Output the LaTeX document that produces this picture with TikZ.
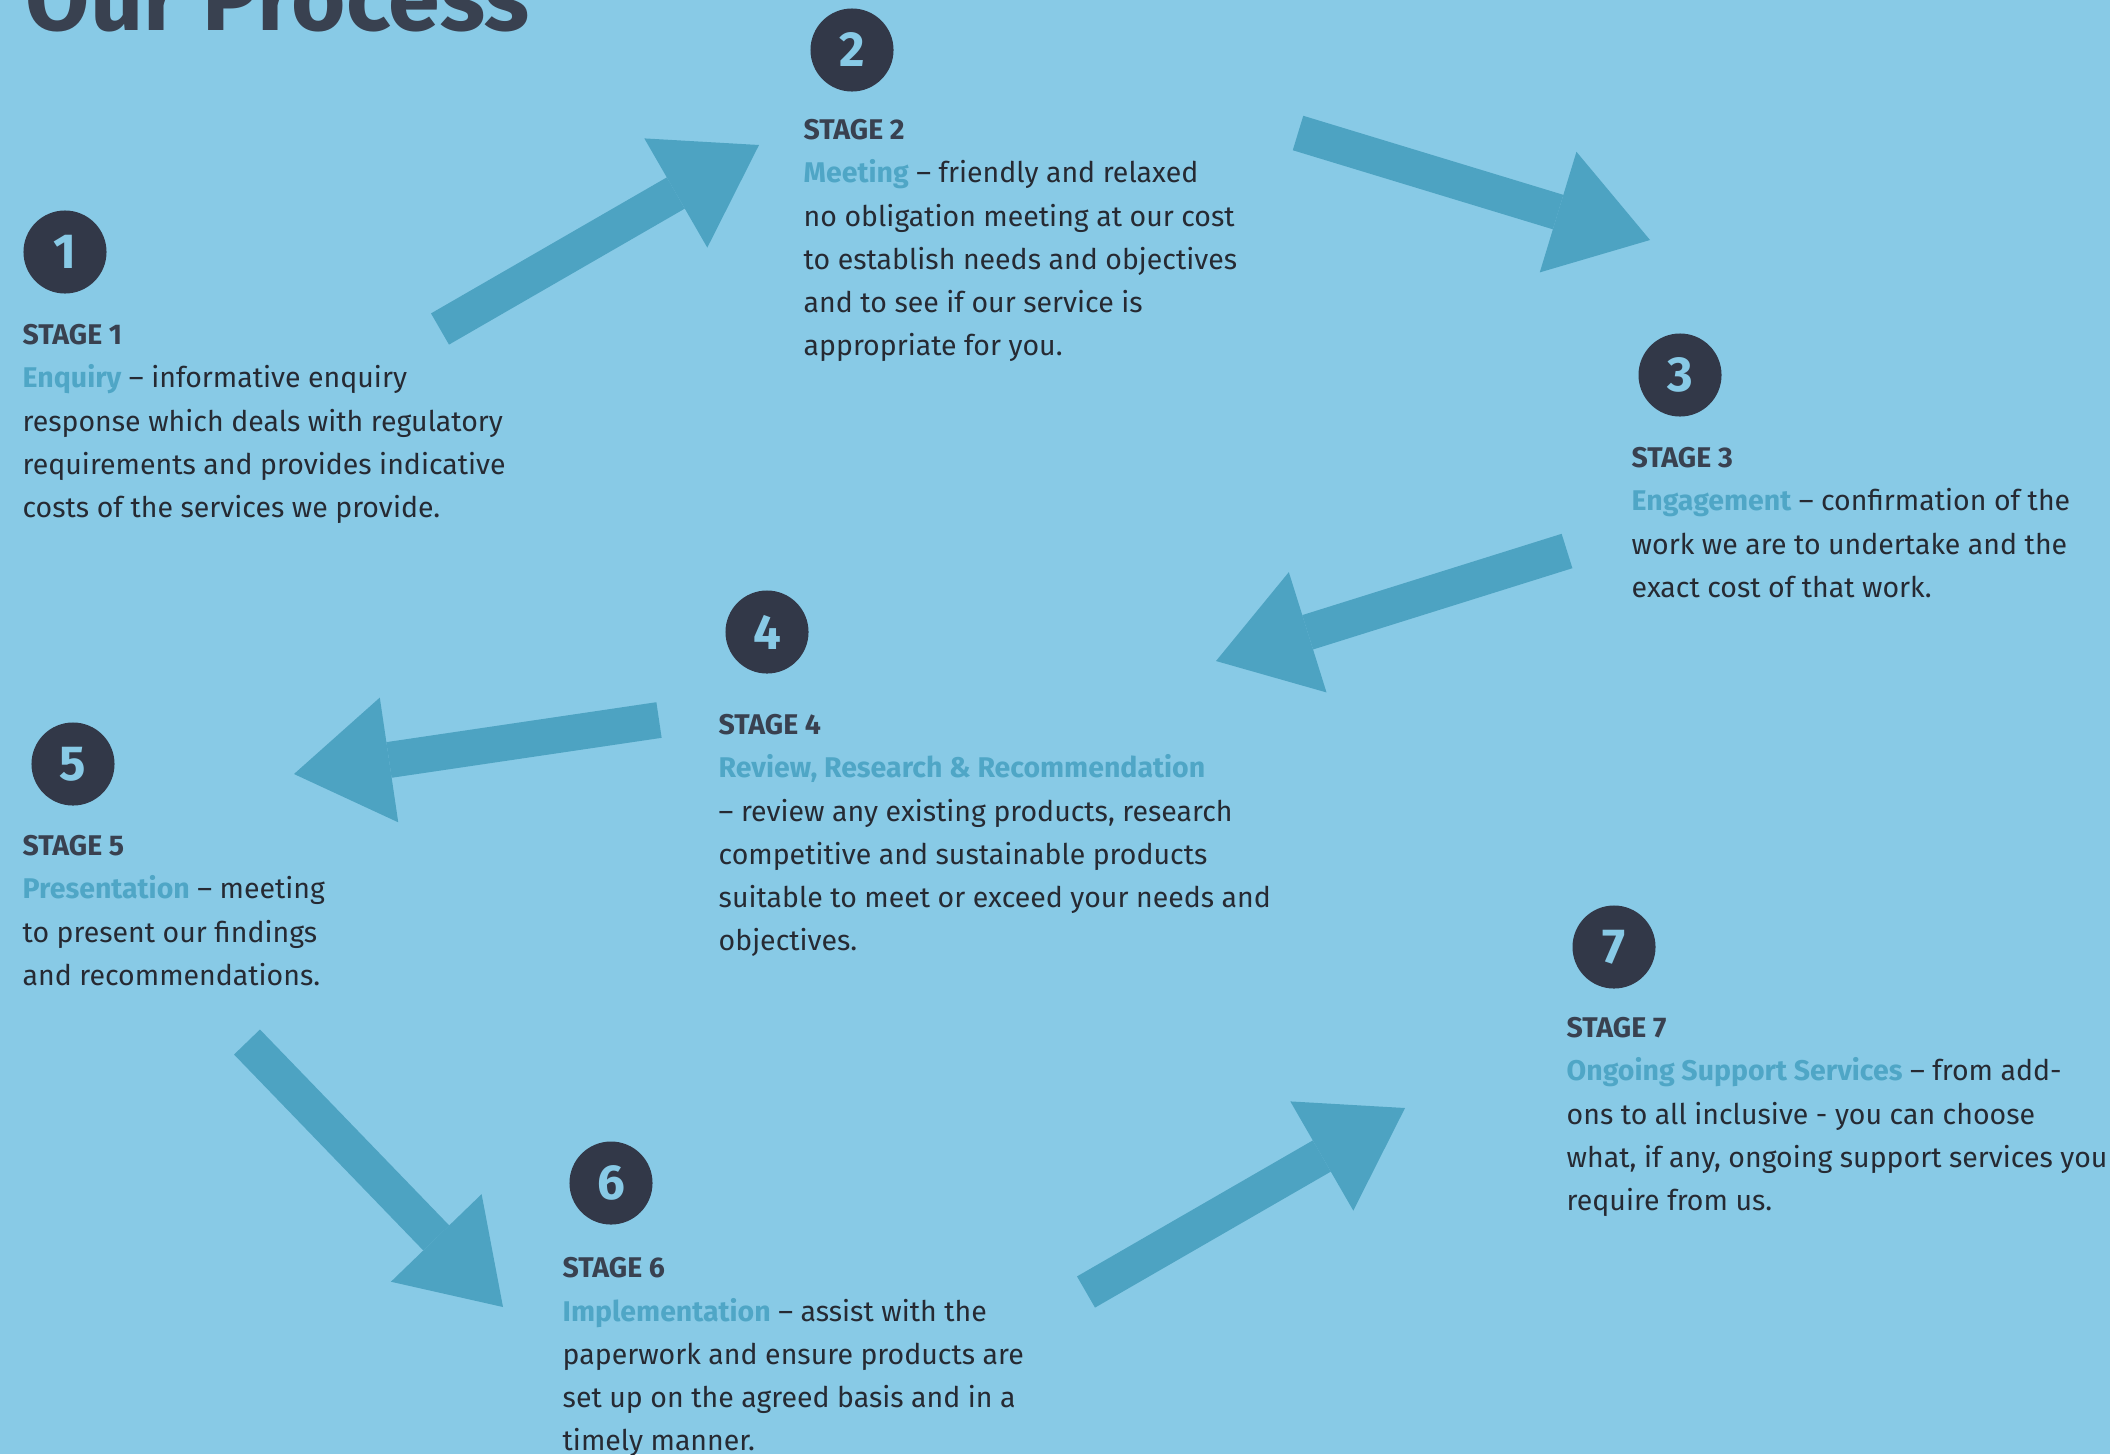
\documentclass[tikz,border=0pt]{standalone}
\usepackage{fontspec}
\setmainfont{Fira Sans}
\usepackage{tikz}
\usetikzlibrary{arrows.meta}
\definecolor{skybg}{HTML}{88CAE6}
\definecolor{arrowblue}{HTML}{4DA3C2}
\definecolor{navy}{HTML}{323848}
\definecolor{keyblue}{HTML}{4FA6C6}
\definecolor{bodyink}{HTML}{262A33}
\definecolor{headink}{HTML}{394150}
\newcommand{\stagehead}[1]{\textcolor{headink}{\bfseries #1}}
\newcommand{\stagekey}[1]{\textcolor{keyblue}{\bfseries #1}}
\tikzset{
  numdot/.style={circle, fill=navy, text=skybg, minimum size=8.3mm, inner sep=0pt,
    font=\fontsize{14pt}{14pt}\selectfont\bfseries},
  stagetext/.style={anchor=north west, align=left, inner sep=0pt, text=bodyink,
    font=\fontsize{8.1pt}{12.24pt}\selectfont},
  flowarrow/.style={arrowblue, line width=3.6mm,
    -{Triangle[length=9.6mm, width=12.6mm, line width=0pt]}},
}

\begin{document}
\begin{tikzpicture}[x=0.01cm, y=-0.01cm]
  \fill[skybg] (0,0) rectangle (2110,1454);
  \useasboundingbox (0,0) rectangle (2110,1454);

  % title, cut at the top edge
  \node[anchor=base west, inner sep=0pt, text=headink,
    font=\fontsize{26.5pt}{26.5pt}\selectfont\bfseries] (title) at (25,30) {Our Process};

  % numbered dots
  \node[numdot] (c1) at (65,252) {1};
  \node[numdot] (c2) at (852,50) {2};
  \node[numdot] (c3) at (1680,375) {3};
  \node[numdot] (c4) at (767,632) {4};
  \node[numdot] (c5) at (73,764) {5};
  \node[numdot] (c6) at (611,1183) {6};
  \node[numdot] (c7) at (1614,947) {7};

  % stage texts
  \node[stagetext] (t1) at (22,324) {\stagehead{STAGE 1}\\
    \stagekey{Enquiry} -- informative enquiry\\
    response which deals with regulatory\\
    requirements and provides indicative\\
    costs of the services we provide.};
  \node[stagetext] (t2) at (803,119) {\stagehead{STAGE 2}\\
    \stagekey{Meeting} -- friendly and relaxed\\
    no obligation meeting at our cost\\
    to establish needs and objectives\\
    and to see if our service is\\
    appropriate for you.};
  \node[stagetext] (t3) at (1631,447) {\stagehead{STAGE 3}\\
    \stagekey{Engagement} -- confirmation of the\\
    work we are to undertake and the\\
    exact cost of that work.};
  \node[stagetext] (t4) at (718,714) {\stagehead{STAGE 4}\\
    \stagekey{Review, Research \& Recommendation}\\
    -- review any existing products, research\\
    competitive and sustainable products\\
    suitable to meet or exceed your needs and\\
    objectives.};
  \node[stagetext] (t5) at (22,835) {\stagehead{STAGE 5}\\
    \stagekey{Presentation} -- meeting\\
    to present our findings\\
    and recommendations.};
  \node[stagetext] (t6) at (562,1257) {\stagehead{STAGE 6}\\
    \stagekey{Implementation} -- assist with the\\
    paperwork and ensure products are\\
    set up on the agreed basis and in a\\
    timely manner.};
  \node[stagetext] (t7) at (1566,1017) {\stagehead{STAGE 7}\\
    \stagekey{Ongoing Support Services} -- from add-\\
    ons to all inclusive - you can choose\\
    what, if any, ongoing support services you\\
    require from us.};

  % arrow ends
  \coordinate (a1s) at (440,329);   \coordinate (a1e) at (759,145);
  \coordinate (a2s) at (1298,133);  \coordinate (a2e) at (1650,240);
  \coordinate (a3s) at (1567,551);  \coordinate (a3e) at (1216,661);
  \coordinate (a4s) at (659,720);   \coordinate (a4e) at (294,774);
  \coordinate (a5s) at (247,1042);  \coordinate (a5e) at (503,1307);
  \coordinate (a6s) at (1086,1292); \coordinate (a6e) at (1405,1108);

  \draw[flowarrow] (a1s) -- (a1e);
  \draw[flowarrow] (a2s) -- (a2e);
  \draw[flowarrow] (a3s) -- (a3e);
  \draw[flowarrow] (a4s) -- (a4e);
  \draw[flowarrow] (a5s) -- (a5e);
  \draw[flowarrow] (a6s) -- (a6e);
\end{tikzpicture}
\end{document}
